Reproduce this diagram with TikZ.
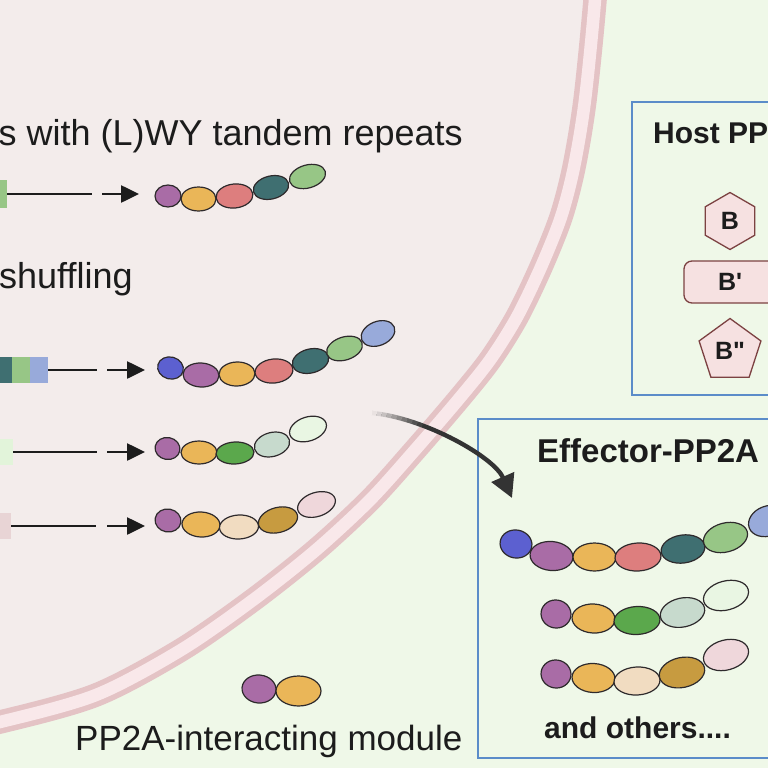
\documentclass[tikz,border=0pt]{standalone}
\usepackage{fontspec}
\setmainfont{Liberation Sans}
\usetikzlibrary{arrows.meta,shapes.geometric}
\definecolor{bgout}{HTML}{EFF8E8}
\definecolor{cellin}{HTML}{F3ECEB}
\definecolor{memline}{HTML}{E4C3C5}
\definecolor{memin}{HTML}{F9E8EA}
\definecolor{boxblue}{HTML}{5B8CC9}
\definecolor{beadline}{HTML}{2E2A2C}
\definecolor{ink}{HTML}{1C1C1C}
\definecolor{cpurple}{HTML}{A96CA6}
\definecolor{cyellow}{HTML}{EAB658}
\definecolor{cred}{HTML}{DD7E7E}
\definecolor{cteal}{HTML}{3F6F71}
\definecolor{cgreen}{HTML}{97C686}
\definecolor{clblue}{HTML}{98AADA}
\definecolor{cblue}{HTML}{5C60D0}
\definecolor{cmgreen}{HTML}{5BA84C}
\definecolor{cggreen}{HTML}{C7DACD}
\definecolor{cvlgreen}{HTML}{E9F6E3}
\definecolor{cbeige}{HTML}{F1DCC1}
\definecolor{cgold}{HTML}{C79B40}
\definecolor{clpink}{HTML}{EFD7DB}
\definecolor{blkgreen}{HTML}{E2F4DA}
\definecolor{blkpink}{HTML}{E8D4D5}
\definecolor{subfill}{HTML}{F6E1E1}
\definecolor{subline}{HTML}{7C4242}
\newcommand\bd[7]{\node[bead,fill=#2,minimum width={2*#5},minimum height={2*#6},rotate=#7] (#1) at (#3,#4) {};}
\begin{document}
\begin{tikzpicture}[x=1pt,y=-1pt,
  bead/.style={ellipse, draw=beadline, line width=1.2pt, inner sep=0pt, outer sep=0pt},
  membrane/.style={draw=memline, line width=5.5pt, double=memin, double distance=12.5pt},
  geneblk/.style={rectangle, draw=none, inner sep=0pt, outer sep=0pt, anchor=west, minimum height=26},
  geneln/.style={draw=ink, line width=2.6pt},
  sarrow/.style={draw=ink, line width=2.6pt, -{Triangle[length=18pt,width=17pt]}},
  curarr/.style={draw=black!80, line width=4.4pt, -{Triangle[length=23pt,width=24pt]}},
  txt/.style={inner sep=0pt, text=ink, font=\fontsize{#1}{#1}\selectfont},
  btxt/.style={inner sep=0pt, text=ink, font=\bfseries\fontsize{#1}{#1}\selectfont},
  pbox/.style={draw=boxblue, line width=1.8pt, fill=bgout, anchor=north west, inner sep=0pt},
  sub/.style={draw=subline, line width=1.3pt, fill=subfill, inner sep=0pt, text=ink, font=\bfseries\fontsize{25}{25}\selectfont}
]
\useasboundingbox (0,0) rectangle (768,768);
\clip (0,0) rectangle (768,768);
\fill[bgout] (0,0) rectangle (768,768);
% cell
\fill[cellin] (-80,-80) -- plot[smooth] coordinates {(600,-80) (595,0) (585,100) (574,167) (561,217) (541,267) (517,317) (490,360) (458,400) (415,450) (370,500) (316,550) (253,600) (181,650) (96,695) (0,722) (-80,738)} -- cycle;
\draw[membrane] plot[smooth] coordinates {(600,-80) (595,0) (585,100) (574,167) (561,217) (541,267) (517,317) (490,360) (458,400) (415,450) (370,500) (316,550) (253,600) (181,650) (96,695) (0,722) (-80,738)};

% ---- texts in cell
\node[txt=36, anchor=base east] (title1) at (463,145) {s with (L)WY tandem repeats};
\node[txt=36, anchor=base west] (title2) at (-1,288) {shuffling};
\node[txt=35, anchor=base west] (title3) at (75,750) {PP2A-interacting module};

% ---- row 1
\node[geneblk, fill=cgreen, minimum width=12, minimum height=28] (gb1) at (-5,194) {};
\coordinate (ge1) at (92,194);
\draw[geneln] (gb1.east) -- (ge1);
\coordinate (as1) at (102,194); \coordinate (ae1) at (139,194);
\draw[sarrow] (as1) -- (ae1);
\bd{p1}{cpurple}{168}{196}{13}{11}{0}
\bd{y1}{cyellow}{198.5}{199}{17.5}{12}{0}
\bd{r1}{cred}{234.5}{196}{18.5}{12}{6}
\bd{t1}{cteal}{271}{187.5}{18}{11.5}{14}
\bd{g1}{cgreen}{307.5}{176.5}{18.5}{11.5}{16}

% ---- row 2
\node[geneblk, fill=cteal, minimum width=17] (gb2a) at (-5,370) {};
\node[geneblk, fill=cgreen, minimum width=18] (gb2b) at (12,370) {};
\node[geneblk, fill=clblue, minimum width=18] (gb2c) at (30,370) {};
\coordinate (ge2) at (97,370);
\draw[geneln] (gb2c.east) -- (ge2);
\coordinate (as2) at (107,370); \coordinate (ae2) at (145,370);
\draw[sarrow] (as2) -- (ae2);
\bd{b2}{cblue}{170.5}{368}{13}{11}{-15}
\bd{p2}{cpurple}{201}{375}{18}{12}{-3}
\bd{y2}{cyellow}{237}{374}{18}{12}{2}
\bd{r2}{cred}{274}{371}{19}{12}{6}
\bd{t2}{cteal}{310.5}{361}{18.5}{12}{14}
\bd{g2}{cgreen}{344.5}{348.5}{18.5}{11.5}{18}
\bd{l2}{clblue}{378}{333.5}{17.5}{12}{22}

% ---- row 3
\node[geneblk, fill=blkgreen, minimum width=18] (gb3) at (-5,452) {};
\coordinate (ge3) at (97,452);
\draw[geneln] (gb3.east) -- (ge3);
\coordinate (as3) at (107,452); \coordinate (ae3) at (145,452);
\draw[sarrow] (as3) -- (ae3);
\bd{p3}{cpurple}{167.5}{448.5}{12.5}{11}{-10}
\bd{y3}{cyellow}{199}{452.5}{18}{11.5}{0}
\bd{m3}{cmgreen}{235}{453}{19}{11}{3}
\bd{gg3}{cggreen}{272}{444.5}{18}{12}{15}
\bd{v3}{cvlgreen}{308}{429}{19}{12}{18}

% ---- row 4
\node[geneblk, fill=blkpink, minimum width=16] (gb4) at (-5,526) {};
\coordinate (ge4) at (96,526);
\draw[geneln] (gb4.east) -- (ge4);
\coordinate (as4) at (107,526); \coordinate (ae4) at (145,526);
\draw[sarrow] (as4) -- (ae4);
\bd{p4}{cpurple}{168}{520.5}{13}{11.5}{-10}
\bd{y4}{cyellow}{201}{524.5}{19}{12.5}{-3}
\bd{be4}{cbeige}{239}{527}{19.5}{12}{3}
\bd{dg4}{cgold}{278}{520}{20}{12.5}{15}
\bd{lp4}{clpink}{316.5}{504.5}{19.5}{12}{18}

% ---- module
\bd{pm}{cpurple}{259}{689}{17}{14}{-5}
\bd{ym}{cyellow}{298.5}{691}{22.5}{15}{0}

% ---- host box
\node[pbox, minimum width=200, minimum height=293] (host) at (631,101) {};
\node[btxt=30, anchor=base west] (hosttitle) at (653,143) {Host PP2A};
\node[sub, regular polygon, regular polygon sides=6, shape border rotate=30, minimum size=57] (subB) at (730,221) {B};
\node[sub, rounded corners=8pt, minimum width=92, minimum height=42] (subBp) at (730,282) {B\textquotesingle};
\node[sub, regular polygon, regular polygon sides=5, minimum size=65] (subBpp) at (730,351) {B\textquotedbl};

% ---- effector box
\node[pbox, minimum width=320, minimum height=339] (eff) at (477,418) {};
\node[btxt=33, anchor=base west] (efftitle) at (537,462) {Effector-PP2A};
\bd{bA}{cblue}{516}{544}{16}{14}{-10}
\bd{pA}{cpurple}{551.5}{556}{21.5}{14.5}{-5}
\bd{yA}{cyellow}{594.5}{557}{21.5}{14}{0}
\bd{rA}{cred}{638}{557}{23}{14}{3}
\bd{tA}{cteal}{683}{549}{22}{14}{8}
\bd{gA}{cgreen}{725.5}{537.5}{22.5}{14.5}{15}
\bd{lA}{clblue}{768}{521}{20}{15}{20}

\bd{pB}{cpurple}{556}{614}{15}{14}{-10}
\bd{yB}{cyellow}{593.5}{618.5}{21.5}{14.5}{-3}
\bd{mB}{cmgreen}{637}{620.5}{23}{14}{3}
\bd{gB}{cggreen}{682.5}{612.5}{22.5}{14.5}{12}
\bd{vB}{cvlgreen}{726}{595.5}{23}{14.5}{15}

\bd{pC}{cpurple}{556}{674}{15}{14}{-10}
\bd{yC}{cyellow}{593.5}{678}{21.5}{14.5}{-3}
\bd{bC}{cbeige}{637}{681}{23}{14}{3}
\bd{dC}{cgold}{682}{672.5}{23}{15}{12}
\bd{lC}{clpink}{726}{655}{23}{15}{15}
\node[btxt=30, anchor=base west] (others) at (544,738) {and others....};

% ---- curved arrow
\coordinate (ar0) at (372,413);
\coordinate (ar1) at (512,498);
\draw[curarr] (ar0) .. controls (425,418) and (494,457) .. (ar1);
\path (ar0) .. controls (425,418) and (494,457) .. (ar1)
  coordinate[pos=0] (f0) coordinate[pos=0.03] (f1) coordinate[pos=0.06] (f2)
  coordinate[pos=0.09] (f3) coordinate[pos=0.12] (f4) coordinate[pos=0.15] (f5)
  coordinate[pos=0.18] (f6) coordinate[pos=0.21] (f7) coordinate[pos=0.24] (f8)
  coordinate[pos=0.27] (f9) coordinate[pos=0.30] (f10);
\foreach \a/\b/\o in {0/1/0.95,1/2/0.86,2/3/0.77,3/4/0.67,4/5/0.57,5/6/0.47,6/7/0.37,7/8/0.27,8/9/0.17,9/10/0.08}
  \draw[cellin, line width=6.5pt, opacity=\o] (f\a) -- (f\b);
\draw[cellin, line width=7pt] (f0) -- +(-6,-0.8);
\end{tikzpicture}
\end{document}
